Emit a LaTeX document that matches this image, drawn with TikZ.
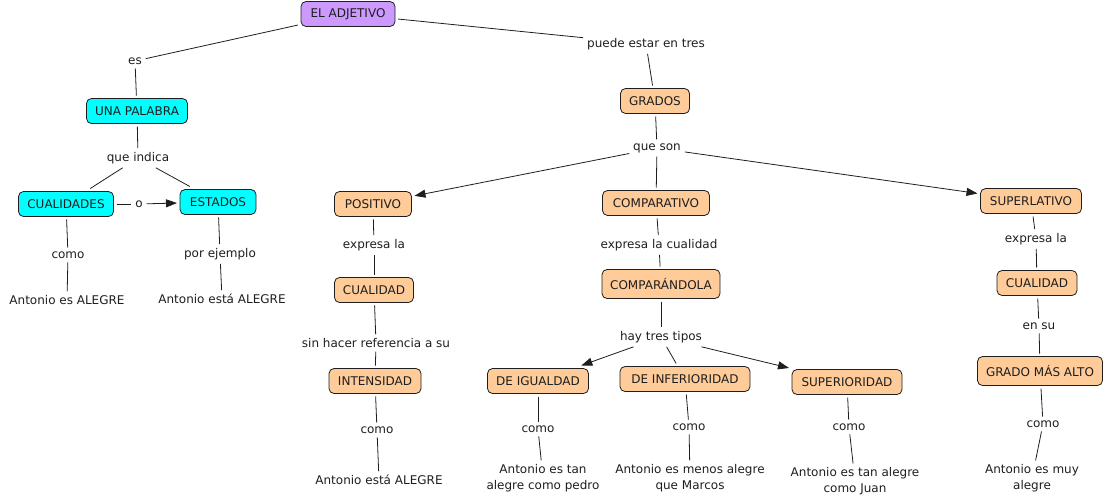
\documentclass[tikz,border=0pt]{standalone}
\usepackage{fontspec}
\setmainfont{DejaVu Sans}
\usetikzlibrary{arrows.meta}
\definecolor{peach}{RGB}{255,204,153}
\definecolor{cyanb}{RGB}{0,255,255}
\definecolor{lav}{RGB}{204,153,255}
\definecolor{ink}{RGB}{30,30,30}
\begin{document}
\begin{tikzpicture}[x=1pt,y=-1pt,
  font=\fontsize{12}{15.5}\selectfont,
  concept/.style={draw=ink, rounded corners=5pt, line width=0.8pt, inner sep=0pt,
    minimum height=25pt, outer sep=3pt, text=ink},
  pch/.style={concept, fill=peach},
  cy/.style={concept, fill=cyanb},
  lv/.style={concept, fill=lav},
  lbl/.style={inner sep=1pt, outer sep=3pt, align=center, text=ink},
  link/.style={draw=ink, line width=0.8pt},
  arr/.style={link, -{Triangle[length=11pt,width=8pt]}}]
\useasboundingbox (0,0) rectangle (1107,503);

% concepts
\node[lv, minimum width=94pt] (adj) at (348,14) {EL ADJETIVO};
\node[cy, minimum width=101pt] (pal) at (137,111) {UNA PALABRA};
\node[cy, minimum width=95pt] (cua) at (66,204) {CUALIDADES};
\node[cy, minimum width=76pt] (est) at (218,202) {ESTADOS};
\node[pch, minimum width=69pt] (gra) at (655,101) {GRADOS};
\node[pch, minimum width=77pt] (pos) at (373,204) {POSITIVO};
\node[pch, minimum width=79pt] (cual1) at (374,290) {CUALIDAD};
\node[pch, minimum width=92pt] (int) at (375,381) {INTENSIDAD};
\node[pch, minimum width=107pt] (comp) at (656,203) {COMPARATIVO};
\node[pch, minimum width=118pt, minimum height=29pt] (compa) at (661,284) {COMPARÁNDOLA};
\node[pch, minimum width=101pt] (igu) at (538,381) {DE IGUALDAD};
\node[pch, minimum width=130pt] (inf) at (685,379) {DE INFERIORIDAD};
\node[pch, minimum width=110pt] (sup) at (847,382) {SUPERIORIDAD};
\node[pch, minimum width=101pt] (supl) at (1031,201) {SUPERLATIVO};
\node[pch, minimum width=80pt] (cual2) at (1037,283) {CUALIDAD};
\node[pch, minimum width=125pt, minimum height=29pt] (alto) at (1040,371) {GRADO MÁS ALTO};

% labels and examples
\node[lbl] (es) at (135,61) {es};
\node[lbl] (puede) at (646,44) {puede estar en tres};
\node[lbl] (qind) at (138,158) {que indica};
\node[lbl] (o) at (139,204) {o};
\node[lbl] (como1) at (68,255) {como};
\node[lbl] (ej1) at (67,300) {Antonio es ALEGRE};
\node[lbl] (porej) at (220,254) {por ejemplo};
\node[lbl] (ej2) at (222,299) {Antonio está ALEGRE};
\node[lbl] (qson) at (657,148) {que son};
\node[lbl] (exp1) at (374,245) {expresa la};
\node[lbl] (sinh) at (376,343) {sin hacer referencia a su};
\node[lbl] (como2) at (377,430) {como};
\node[lbl] (ej3) at (379,480) {Antonio está ALEGRE};
\node[lbl] (exp2) at (659,245) {expresa la cualidad};
\node[lbl] (hay) at (661,337) {hay tres tipos};
\node[lbl] (como3) at (538,429) {como};
\node[lbl] (ej4) at (543,478) {Antonio es tan\\alegre como pedro};
\node[lbl] (como4) at (689,427) {como};
\node[lbl] (ej5) at (690,478) {Antonio es menos alegre\\que Marcos};
\node[lbl] (como5) at (849,427) {como};
\node[lbl] (ej6) at (855,481) {Antonio es tan alegre\\como Juan};
\node[lbl] (exp3) at (1036,239) {expresa la};
\node[lbl] (ensu) at (1039,326) {en su};
\node[lbl] (como6) at (1043,424) {como};
\node[lbl] (ej7) at (1032,478) {Antonio es muy\\alegre};

% connectors
\draw[link] (adj) -- (es);
\draw[link] (es) -- (pal);
\draw[link] (adj) -- (puede);
\draw[link] (puede) -- (gra);
\draw[link] (pal) -- (qind);
\draw[link] (qind) -- (cua);
\draw[link] (qind) -- (est);
\draw[link] (cua) -- (o);
\draw[arr] (o) -- (est);
\draw[link] (cua) -- (como1);
\draw[link] (como1) -- (ej1);
\draw[link] (est) -- (porej);
\draw[link] (porej) -- (ej2);
\draw[link] (gra) -- (qson);
\draw[arr] (qson) -- (pos);
\draw[link] (qson) -- (comp);
\draw[arr] (qson) -- (supl);
\draw[link] (pos) -- (exp1);
\draw[link] (exp1) -- (cual1);
\draw[link] (cual1) -- (sinh);
\draw[link] (sinh) -- (int);
\draw[link] (int) -- (como2);
\draw[link] (como2) -- (ej3);
\draw[link] (comp) -- (exp2);
\draw[link] (exp2) -- (compa);
\draw[link] (compa) -- (hay);
\draw[arr] (hay) -- (igu);
\draw[link] (hay) -- (inf);
\draw[arr] (hay) -- (sup);
\draw[link] (igu) -- (como3);
\draw[link] (como3) -- (ej4);
\draw[link] (inf) -- (como4);
\draw[link] (como4) -- (ej5);
\draw[link] (sup) -- (como5);
\draw[link] (como5) -- (ej6);
\draw[link] (supl) -- (exp3);
\draw[link] (exp3) -- (cual2);
\draw[link] (cual2) -- (ensu);
\draw[link] (ensu) -- (alto);
\draw[link] (alto) -- (como6);
\draw[link] (como6) -- (ej7);
\end{tikzpicture}
\end{document}
